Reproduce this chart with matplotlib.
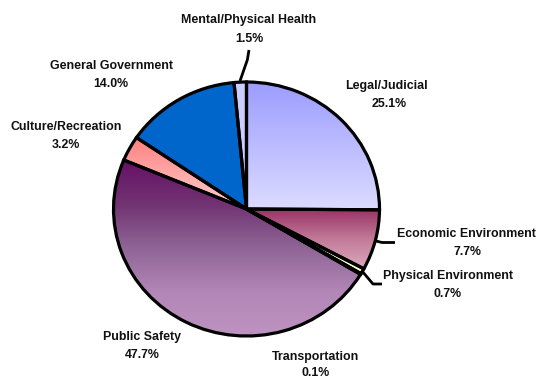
import matplotlib
matplotlib.use("Agg")
import matplotlib.pyplot as plt
import numpy as np
from matplotlib.colors import LinearSegmentedColormap

# spending share by function, clockwise from 12 o'clock
categories = [
    "Legal/Judicial",
    "Economic Environment",
    "Physical Environment",
    "Transportation",
    "Public Safety",
    "Culture/Recreation",
    "General Government",
    "Mental/Physical Health",
]
shares = [25.1, 7.7, 0.7, 0.1, 47.7, 3.2, 14.0, 1.5]

# colour stops top -> bottom; a single colour means a flat fill
FILLS = [
    ["#9c9cff", "#dcdcff"],
    ["#993366", "#c27a98", "#dcaabd"],
    ["#ffffcc"],
    ["#ffffcc"],
    ["#661166", "#713372", "#8f6596", "#b287b7", "#bd93c2"],
    ["#ff7f7f", "#ffd0d0"],
    ["#0066cc"],
    ["#ccccff"],
]

# label placement in pixels: (name centre, percent centre)
LABEL_PX = [
    ((386, 85), (389, 103)),
    ((466, 233), (467, 251)),
    ((448, 275), (448, 293)),
    ((315.5, 356), (316, 372)),
    ((142, 336), (142.5, 354)),
    ((66, 126), (66, 144)),
    ((111, 65), (110.5, 83)),
    ((249, 19), (249, 38)),
]
LEADERS_PX = {
    "Mental/Physical Health": [(240, 81), (247.3, 60), (249, 50)],
    "Economic Environment": [(376, 241), (382, 242.5), (395, 242.5)],
    "Physical Environment": [(362, 271), (373, 284), (382, 284)],
}

W, H = 539, 378
CX, CY, RX, RY = 246.5, 209.0, 133.0, 127.0


def px(x, y):
    return (x - CX) / RX, (CY - y) / RY


def main():
    fig = plt.figure(figsize=(W / 100, H / 100), dpi=100)
    ax = fig.add_axes([0, 0, 1, 1])

    flat = [stops[0] for stops in FILLS]
    wedges, _ = ax.pie(shares, colors=flat, startangle=90, counterclock=False,
                       wedgeprops=dict(linewidth=0))
    for wedge, stops in zip(wedges, FILLS):
        if len(stops) == 1:
            continue
        ext = wedge.get_path().get_extents()
        cmap = LinearSegmentedColormap.from_list("g", stops)
        grad = np.linspace(0, 1, 256).reshape(-1, 1)
        img = ax.imshow(grad, cmap=cmap, aspect="auto", origin="upper",
                        extent=(ext.x0, ext.x1, ext.y0, ext.y1), zorder=2)
        img.set_clip_path(wedge)

    ax.pie(shares, colors=["none"] * len(shares), startangle=90,
           counterclock=False,
           wedgeprops=dict(linewidth=2.3, edgecolor="black", zorder=3))

    for name, pts in LEADERS_PX.items():
        xs, ys = zip(*[px(x, y) for x, y in pts])
        ax.plot(xs, ys, color="black", linewidth=2.0, zorder=4,
                solid_capstyle="butt", solid_joinstyle="round")

    font = dict(family="Liberation Sans", weight="bold", size=8.9,
                color="#111111", ha="center", va="baseline")
    for name, value, (name_pos, pct_pos) in zip(categories, shares, LABEL_PX):
        ax.text(*px(name_pos[0], name_pos[1] + 4.4), name, **font)
        ax.text(*px(pct_pos[0], pct_pos[1] + 4.4), f"{value:.1f}%", **font)

    ax.set_aspect("auto")
    ax.set_xlim(-CX / RX, (W - CX) / RX)
    ax.set_ylim((CY - H) / RY, CY / RY)
    ax.axis("off")
    fig.savefig("out.png", dpi=100)


if __name__ == "__main__":
    main()
